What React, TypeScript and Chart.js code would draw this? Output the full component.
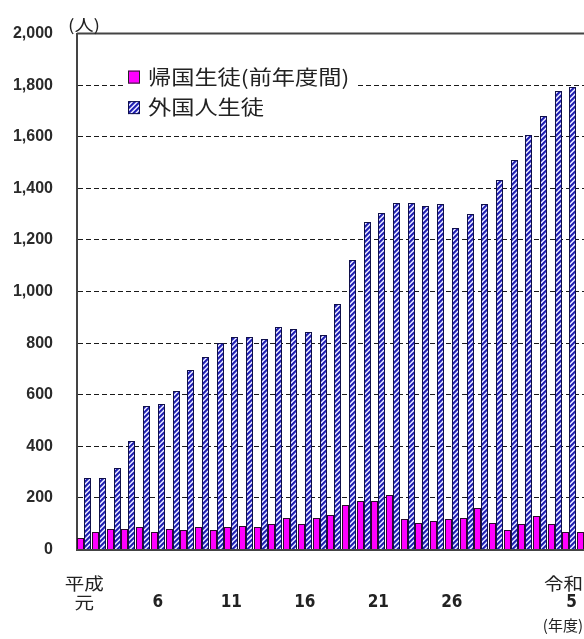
import React, { useEffect, useRef } from "react";
import { Chart, registerables } from "chart.js";

Chart.register(...registerables);

const years = [
  "平成元", "平成2", "平成3", "平成4", "平成5", "平成6", "平成7", "平成8", "平成9", "平成10",
  "平成11", "平成12", "平成13", "平成14", "平成15", "平成16", "平成17", "平成18", "平成19", "平成20",
  "平成21", "平成22", "平成23", "平成24", "平成25", "平成26", "平成27", "平成28", "平成29", "平成30",
  "令和元", "令和2", "令和3", "令和4", "令和5",
];

const kikokuStudents = [
  43, 66, 79, 79, 86, 66, 79, 74, 86, 74,
  86, 92, 86, 97, 124, 98, 124, 135, 172, 188,
  188, 211, 117, 104, 110, 117, 123, 161, 104, 76,
  97, 130, 97, 66, 66,
];

const foreignStudents = [
  278, 278, 316, 422, 556, 563, 614, 695, 746, 801,
  822, 823, 816, 862, 855, 842, 830, 950, 1122, 1268,
  1306, 1345, 1344, 1332, 1338, 1248, 1300, 1339, 1434, 1511,
  1605, 1680, 1779, 1793, 1879,
];

const seriesNames = ["帰国生徒(前年度間)", "外国人生徒"];
const yTicks = [0, 200, 400, 600, 800, 1000, 1200, 1400, 1600, 1800, 2000];
const xTickIndex = [0, 5, 10, 15, 20, 25, 34];
const xTickText = [["平成", "元"], ["6"], ["11"], ["16"], ["21"], ["26"], ["令和", "5"]];
const yUnit = "(人)";
const xUnit = "(年度)";

const CJK = '"Noto Sans CJK JP", "Noto Sans CJK SC", sans-serif';
const NARROW = '"Liberation Sans Narrow", "DejaVu Sans Condensed", sans-serif';
const VISIBLE_RIGHT = 583;

function drawText(
  ctx: CanvasRenderingContext2D,
  text: string,
  x: number,
  y: number,
  font: string,
  align: CanvasTextAlign,
  sx = 1,
  color = "#222"
) {
  ctx.save();
  ctx.font = font;
  ctx.fillStyle = color;
  ctx.textAlign = align;
  ctx.textBaseline = "middle";
  ctx.translate(x, y);
  ctx.scale(sx, 1);
  ctx.fillText(text, 0, 0);
  ctx.restore();
}

function makeHatch(): CanvasPattern | string {
  const n = 5;
  const c = document.createElement("canvas");
  c.width = n;
  c.height = n;
  const g = c.getContext("2d");
  if (!g) return "#3333aa";
  const img = g.createImageData(n, n);
  const palette = [
    [0x1e, 0x1e, 0xb0],
    [0x22, 0x22, 0xb4],
    [0x60, 0x60, 0xd0],
    [0xee, 0xee, 0xff],
    [0xb0, 0xb0, 0xf0],
  ];
  for (let y = 0; y < n; y++) {
    for (let x = 0; x < n; x++) {
      const i = (y * n + x) * 4;
      const col = palette[(x + y) % n];
      img.data[i] = col[0];
      img.data[i + 1] = col[1];
      img.data[i + 2] = col[2];
      img.data[i + 3] = 255;
    }
  }
  g.putImageData(img, 0, 0);
  const p = g.createPattern(c, "repeat");
  return p || "#3333aa";
}

export default function App() {
  const ref = useRef<HTMLCanvasElement | null>(null);

  useEffect(() => {
    document.body.style.margin = "0";
    const canvas = ref.current;
    if (!canvas) return;
    const hatch = makeHatch();

    // snap bar edges to whole pixels so 1px borders stay crisp
    const snapBars = {
      id: "snapBars",
      afterDatasetsUpdate(chart: any) {
        chart.data.datasets.forEach((_d: any, di: number) => {
          const meta = chart.getDatasetMeta(di);
          meta.data.forEach((el: any) => {
            const w = 7;
            const leftEdge = Math.round(el.x - w / 2);
            el.x = leftEdge + w / 2;
            el.width = w;
            el.y = Math.round(el.y);
            el.base = Math.round(el.base);
          });
        });
      },
    };

    const decor = {
      id: "decor",
      afterDraw(chart: any) {
        const { ctx, chartArea } = chart;
        const xs = chart.scales.x;
        const { left, right, top, bottom } = chartArea;

        ctx.save();
        ctx.strokeStyle = "#444";
        ctx.lineWidth = 2;
        ctx.beginPath();
        ctx.moveTo(left, top);
        ctx.lineTo(right, top);
        ctx.stroke();
        ctx.restore();

        drawText(ctx, yUnit, left + 7, top - 9, `16px ${CJK}`, "center", 1.2);

        ctx.save();
        ctx.fillStyle = "#fff";
        ctx.fillRect(left + 48, top + 33, 230, 55);
        ctx.restore();
        const boxX = left + 51;
        const rows = [top + 43.5, top + 74];
        const fills: any[] = ["#ff00ff", hatch];
        rows.forEach((cy, i) => {
          ctx.save();
          ctx.fillStyle = fills[i];
          ctx.fillRect(boxX, cy - 6.5, 12, 13);
          ctx.strokeStyle = i === 0 ? "#222" : "#10104a";
          ctx.lineWidth = 1;
          ctx.strokeRect(boxX + 0.5, cy - 6, 11, 12);
          ctx.restore();
          drawText(ctx, seriesNames[i], boxX + 20, cy, `20px ${CJK}`, "left", 1.16);
        });

        xTickIndex.forEach((idx, k) => {
          const lines = xTickText[k];
          let x = xs.getPixelForValue(idx);
          let align: CanvasTextAlign = "center";
          ctx.save();
          ctx.font = `17px ${CJK}`;
          const w = Math.max(...lines.map((l) => ctx.measureText(l).width * 1.15));
          ctx.restore();
          const clamped = x + w / 2 > VISIBLE_RIGHT;
          if (clamped) {
            x = VISIBLE_RIGHT;
            align = "right";
          }
          lines.forEach((line, j) => {
            const y = lines.length === 2 && j === 0 ? bottom + 34.5 : bottom + 53.5;
            const isNum = /^[0-9]+$/.test(line);
            drawText(
              ctx,
              line,
              clamped && isNum ? x - 6 : x,
              y,
              isNum ? `bold 17px ${NARROW}` : `17px ${CJK}`,
              align,
              isNum ? 1 : 1.15
            );
          });
        });

        drawText(ctx, xUnit, VISIBLE_RIGHT, bottom + 75.5, `15px ${CJK}`, "right", 1.0);
      },
    };

    const chart = new Chart(canvas, {
      type: "bar",
      data: {
        labels: years,
        datasets: [
          {
            label: seriesNames[0],
            data: kikokuStudents,
            backgroundColor: "#ff00ff",
            borderColor: "#2a0a2a",
            borderWidth: 1,
            inflateAmount: 0,
            categoryPercentage: 0.96,
            barPercentage: 1.0,
          },
          {
            label: seriesNames[1],
            data: foreignStudents,
            backgroundColor: hatch as any,
            borderColor: "#10104a",
            borderWidth: 1,
            inflateAmount: 0,
            categoryPercentage: 0.96,
            barPercentage: 1.0,
          },
        ],
      },
      options: {
        animation: false,
        responsive: false,
        maintainAspectRatio: false,
        events: [],
        layout: { padding: { top: 32.5, right: 8.5, left: 0, bottom: 0 } },
        plugins: {
          legend: { display: false },
          tooltip: { enabled: false },
        },
        scales: {
          x: {
            offset: true,
            grid: { display: false },
            ticks: { display: false },
            border: { display: true, color: "#444", width: 2 },
            afterFit: (s: any) => {
              s.height = 89.5;
            },
          },
          y: {
            min: 0,
            max: 2000,
            afterBuildTicks: (s: any) => {
              s.ticks = yTicks.map((v) => ({ value: v }));
            },
            grid: { color: "#1a1a1a", lineWidth: 1, drawTicks: false },
            border: { display: true, color: "#444", width: 2, dash: [5, 3] },
            ticks: {
              padding: 24,
              color: "#2a2a2a",
              font: { family: '"Liberation Sans", Arial, sans-serif', size: 16, weight: "bold" },
              callback: (v: any) => Number(v).toLocaleString("en-US"),
            },
            afterFit: (s: any) => {
              s.width = 77;
            },
          },
        },
      },
      plugins: [snapBars, decor],
    });

    return () => chart.destroy();
  }, []);

  return (
    <div style={{ width: 584, height: 639, overflow: "hidden", position: "relative", background: "#fff" }}>
      <canvas
        ref={ref}
        width={600}
        height={639}
        style={{ position: "absolute", left: 0, top: 0, width: 600, height: 639 }}
      />
    </div>
  );
}
